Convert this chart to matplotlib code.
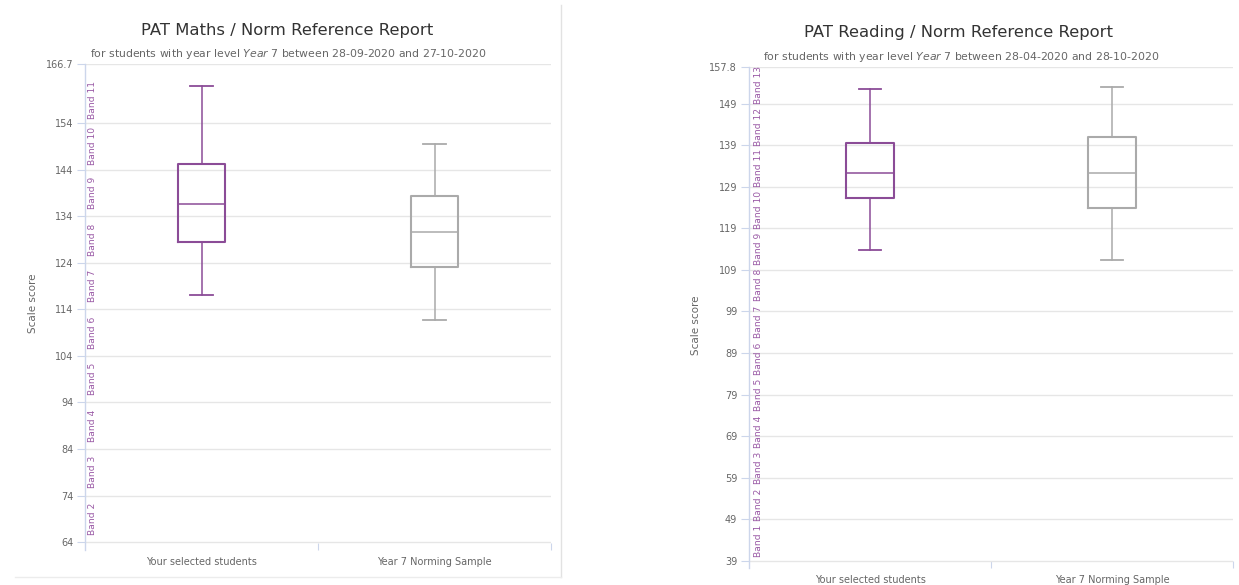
import matplotlib
matplotlib.use("Agg")
import matplotlib.pyplot as plt
from matplotlib.lines import Line2D
import matplotlib.transforms as mtransforms

# ---- data ----
categories = ["Your selected students", "Year 7 Norming Sample"]

# maths: whisker low, q1, median, q3, whisker high
maths_selected = [117.1, 128.4, 136.6, 145.2, 162.0]
maths_norm = [111.7, 123.1, 130.6, 138.3, 149.5]
maths_ticks = [64, 74, 84, 94, 104, 114, 124, 134, 144, 154, 166.7]
maths_band_names = ["Band %d" % k for k in range(2, 12)]
maths_band_centres = [69, 79, 89, 99, 109, 119, 129, 139, 149, 159]

reading_selected = [113.7, 126.2, 132.2, 139.6, 152.4]
reading_norm = [111.5, 124.0, 132.2, 140.9, 152.9]
reading_ticks = [39, 49, 59, 69, 79, 89, 99, 109, 119, 129, 139, 149, 157.8]
reading_band_names = ["Band %d" % k for k in range(1, 14)]
reading_band_centres = [43.8, 52.6, 61.4, 70.1, 78.9, 87.7, 96.5, 105.3,
                        114.0, 123.4, 133.4, 143.4, 153.4]

PURPLE = "#8b4c97"
BAND_PURPLE = "#9a5aa6"
GREY = "#aaaaaa"
GRID = "#e6e6e6"
AXIS = "#ccd6eb"
LABEL = "#666666"

W, H = 1239, 585


def stats_of(vals, label):
    lo, q1, med, q3, hi = vals
    return dict(whislo=lo, q1=q1, med=med, q3=q3, whishi=hi, label=label)


def draw_panel(ax, sel, norm, ticks, ylim, band_names, band_centres, band_x):
    for vals, pos, col in [(sel, 0, PURPLE), (norm, 1, GREY)]:
        ax.bxp([stats_of(vals, categories[pos])], positions=[pos], widths=0.2,
               capwidths=0.095, showfliers=False, patch_artist=False,
               boxprops=dict(color=col, linewidth=1.5),
               whiskerprops=dict(color=col, linewidth=1.1),
               capprops=dict(color=col, linewidth=1.3),
               medianprops=dict(color=col, linewidth=1.1))
    ax.set_xlim(-0.5, 1.5)
    ax.set_ylim(*ylim)
    ax.set_yticks(ticks)
    ax.set_yticklabels([("%g" % t) for t in ticks])
    ax.set_xticks([0, 1])
    ax.set_xticklabels(categories)
    ax.set_xticks([0.5, 1.5], minor=True)
    ax.tick_params(axis="x", which="major", length=0, pad=5, labelsize=7,
                   labelcolor=LABEL)
    ax.tick_params(axis="x", which="minor", direction="in", length=5,
                   color=AXIS, width=0.8)
    ax.tick_params(axis="y", length=6, width=0.8, color=AXIS, pad=2.5,
                   labelsize=7, labelcolor=LABEL)
    ax.grid(axis="y", color=GRID, linewidth=1)
    ax.set_axisbelow(True)
    for s in ["top", "right", "bottom"]:
        ax.spines[s].set_visible(False)
    ax.spines["left"].set_color(AXIS)
    ax.spines["left"].set_linewidth(1)
    trans = mtransforms.blended_transform_factory(ax.transAxes, ax.transData)
    for name, c in zip(band_names, band_centres):
        ax.text(band_x, c, name, transform=trans, rotation=90, ha="center",
                va="center", fontsize=6.6, color=BAND_PURPLE)


fig = plt.figure(figsize=(W / 100, H / 100), dpi=100)
fig.patch.set_facecolor("white")

ax1 = fig.add_axes([85 / W, 1 - 550 / H, (551 - 85) / W, (550 - 64) / H])
draw_panel(ax1, maths_selected, maths_norm, maths_ticks, (62.3, 166.7),
           maths_band_names, maths_band_centres, 0.016)

ax2 = fig.add_axes([749 / W, 1 - 568 / H, (1233 - 749) / W, (568 - 67) / H])
draw_panel(ax2, reading_selected, reading_norm, reading_ticks, (37.3, 157.8),
           reading_band_names, reading_band_centres, 0.019)

# titles
fig.text(287 / W, 1 - 31 / H, "PAT Maths / Norm Reference Report",
         ha="center", va="center", fontsize=11.8, color="#333333")
fig.text(288 / W, 1 - 54 / H,
         r"for students with year level $\mathit{Year\ 7}$ between 28-09-2020 and 27-10-2020",
         ha="center", va="center", fontsize=7.8, color=LABEL)
fig.text(958 / W, 1 - 32 / H, "PAT Reading / Norm Reference Report",
         ha="center", va="center", fontsize=11.8, color="#333333")
fig.text(961 / W, 1 - 57 / H,
         r"for students with year level $\mathit{Year\ 7}$ between 28-04-2020 and 28-10-2020",
         ha="center", va="center", fontsize=7.8, color=LABEL)

# y axis titles
fig.text(33 / W, 1 - 303 / H, "Scale score", rotation=90, ha="center",
         va="center", fontsize=7.5, color=LABEL)
fig.text(696 / W, 1 - 325 / H, "Scale score", rotation=90, ha="center",
         va="center", fontsize=7.5, color=LABEL)

# frame of the left report
fig.add_artist(Line2D([561 / W, 561 / W], [1 - 5 / H, 1 - 577 / H],
                      transform=fig.transFigure, color="#e2e2e2", linewidth=1))
fig.add_artist(Line2D([15 / W, 561 / W], [1 - 577 / H, 1 - 577 / H],
                      transform=fig.transFigure, color="#ececec", linewidth=1))

fig.savefig("out.png", dpi=100)
